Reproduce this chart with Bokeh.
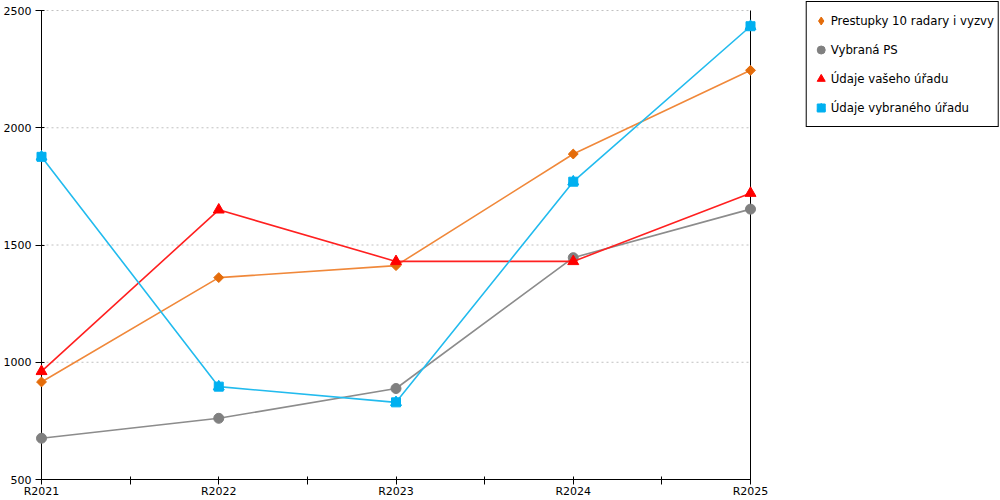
from bokeh.plotting import figure
from bokeh.models import FixedTicker, Range1d, Legend, LegendItem
from bokeh.embed import file_html
from bokeh.resources import INLINE

categories = ["R2021", "R2022", "R2023", "R2024", "R2025"]
prestupky = [916, 1361, 1412, 1888, 2245]
vybrana_ps = [676, 761, 888, 1446, 1653]
udaje_vaseho = [961, 1650, 1430, 1430, 1721]
udaje_vybraneho = [1876, 896, 829, 1770, 2433]
series_names = ["Prestupky 10 radary i vyzvy", "Vybraná PS",
                "Údaje vašeho úřadu", "Údaje vybraného úřadu"]
y_ticks = [500, 1000, 1500, 2000, 2500]

FONT = "DejaVu Sans"
xs = list(range(len(categories)))

# colours per series
marker_col = ["#E46C0A", "#808080", "#FF0000", "#00B0F0"]
line_col = ["#F0883A", "#8C8C8C", "#FF2020", "#22BBEE"]

# frame spans the whole width so that the legend box (top right) is not clipped;
# ranges are padded so the data area sits where the reference has it
PX_PER_X = 177.25
PX_PER_Y = 468 / (y_ticks[-1] - y_ticks[0])
p = figure(width=1000, height=500, output_backend="svg", toolbar_location=None,
           x_range=Range1d(xs[0] - 6 / PX_PER_X, xs[0] + 959 / PX_PER_X),
           y_range=Range1d(y_ticks[0], y_ticks[-1] + 10 / PX_PER_Y),
           min_border_left=35, min_border_right=0,
           min_border_top=0, min_border_bottom=20)
p.outline_line_color = None
p.background_fill_color = "white"
p.border_fill_color = "white"
p.xgrid.visible = False
p.ygrid.visible = False

# dashed horizontal grid limited to the data area
n_grid = len(y_ticks) - 1
p.segment(x0=[xs[0]] * n_grid, x1=[xs[-1]] * n_grid, y0=y_ticks[1:], y1=y_ticks[1:],
          line_color="#c0c0c0", line_dash="2 3", line_width=1)
# vertical axis lines at the first and last category
p.segment(x0=[xs[0], xs[-1]], x1=[xs[0], xs[-1]],
          y0=[y_ticks[0]] * 2, y1=[y_ticks[-1]] * 2,
          line_color="black", line_width=1)

# x axis
xt = [i * 0.5 for i in range(2 * len(categories) - 1)]
overrides = {}
for t in xt:
    if t == int(t):
        overrides[int(t)] = categories[int(t)]
    else:
        overrides[t] = ""
xa = p.xaxis[0]
xa.ticker = FixedTicker(ticks=xt, minor_ticks=[])
xa.bounds = (xs[0], xs[-1])
xa.major_label_overrides = overrides
xa.major_tick_in = 3
xa.major_tick_out = 5
xa.minor_tick_line_color = None
xa.major_label_standoff = 0
xa.major_label_text_font = FONT
xa.major_label_text_font_size = "11px"
xa.major_label_text_line_height = 1.0
xa.major_label_text_color = "black"
xa.axis_line_color = "black"
xa.major_tick_line_color = "black"

# y axis
ya = p.yaxis[0]
ya.ticker = FixedTicker(ticks=y_ticks, minor_ticks=[])
ya.bounds = (y_ticks[0], y_ticks[-1])
ya.axis_line_color = None
ya.major_tick_in = 9
ya.major_tick_out = 0
ya.minor_tick_line_color = None
ya.major_label_standoff = 4
ya.major_label_text_font = FONT
ya.major_label_text_font_size = "11px"
ya.major_label_text_color = "black"
ya.major_tick_line_color = "black"

# series
p.line(xs, prestupky, line_color=line_col[0], line_width=1.6)
# diamond used for the legend entry (hidden under the rotated square in the plot)
r1_leg = p.scatter(xs, prestupky, marker="diamond", size=7,
                   fill_color=marker_col[0], line_color=marker_col[0])
p.scatter(xs, prestupky, marker="square", angle=0.785398, size=7,
          fill_color=marker_col[0], line_color=marker_col[0])

p.line(xs, vybrana_ps, line_color=line_col[1], line_width=1.6)
r2 = p.scatter(xs, vybrana_ps, marker="circle", size=10,
               fill_color=marker_col[1], line_color=marker_col[1])

p.line(xs, udaje_vaseho, line_color=line_col[2], line_width=1.6)
r3 = p.scatter(xs, udaje_vaseho, marker="triangle", size=11,
               fill_color=marker_col[2], line_color=marker_col[2])

p.line(xs, udaje_vybraneho, line_color=line_col[3], line_width=1.6)
r4a = p.scatter(xs, udaje_vybraneho, marker="square", size=9,
                fill_color=marker_col[3], line_color=marker_col[3])
r4b = p.scatter(xs, udaje_vybraneho, marker="triangle", size=11,
                fill_color=marker_col[3], line_color=marker_col[3])

legend = Legend(items=[
    LegendItem(label=series_names[0], renderers=[r1_leg]),
    LegendItem(label=series_names[1], renderers=[r2]),
    LegendItem(label=series_names[2], renderers=[r3]),
    LegendItem(label=series_names[3], renderers=[r4a, r4b]),
], location="top_right", margin=1, padding=4, spacing=0,
    glyph_width=20, glyph_height=29, label_height=29, label_standoff=0,
    label_text_font=FONT, label_text_font_size="11.75px",
    label_text_color="black",
    border_line_color="black", border_line_width=1, border_line_alpha=1.0,
    background_fill_color="white", background_fill_alpha=1.0)
p.add_layout(legend)

open("out.html", "w").write(file_html(p, INLINE))
